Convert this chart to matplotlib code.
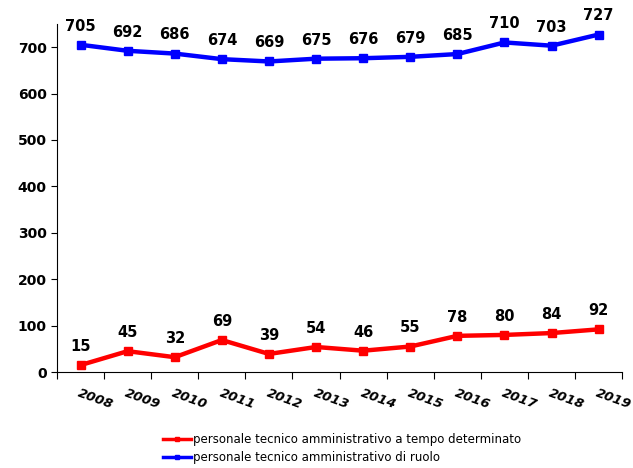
import matplotlib
matplotlib.use("Agg")
import matplotlib.pyplot as plt

years = ["2008", "2009", "2010", "2011", "2012", "2013", "2014", "2015", "2016", "2017", "2018", "2019"]
determinato = [15, 45, 32, 69, 39, 54, 46, 55, 78, 80, 84, 92]
ruolo = [705, 692, 686, 674, 669, 675, 676, 679, 685, 710, 703, 727]
label_det = "personale tecnico amministrativo a tempo determinato"
label_ruolo = "personale tecnico amministrativo di ruolo"

plt.rcParams['font.family'] = ['DejaVu Sans']
fig = plt.figure(figsize=(6.33, 4.68), dpi=100)
ax = fig.add_axes([0.090, 0.205, 0.893, 0.744])

x = list(range(len(years)))
l1, = ax.plot(x, determinato, color="#FF0000", lw=3.2, marker="s", ms=6, label=label_det)
l2, = ax.plot(x, ruolo, color="#0000FF", lw=3.2, marker="s", ms=6, label=label_ruolo)

for xi, v in zip(x, determinato):
    ax.annotate(str(v), (xi, v), xytext=(0, 8), textcoords="offset points",
                ha="center", va="bottom", fontsize=10.5, fontweight="bold")
for xi, v in zip(x, ruolo):
    ax.annotate(str(v), (xi, v), xytext=(0, 8), textcoords="offset points",
                ha="center", va="bottom", fontsize=10.5, fontweight="bold")

ax.set_xlim(-0.5, len(years) - 0.5)
ax.set_ylim(0, 750)
ax.set_yticks(range(0, 701, 100))
ax.tick_params(axis="y", labelsize=10, direction="out", length=4)
for t in ax.get_yticklabels():
    t.set_fontweight("bold")

ax.set_xticks([i - 0.5 for i in range(len(years) + 1)])
ax.set_xticklabels([])
ax.tick_params(axis="x", direction="out", length=5)
for xi, yr in zip(x, years):
    ax.text(xi, -0.042, yr, transform=ax.get_xaxis_transform(), rotation=-20,
            rotation_mode="anchor", ha="left", va="top", fontsize=9.5,
            fontweight="bold", fontstyle="italic")

ax.spines["top"].set_visible(False)
ax.spines["right"].set_visible(False)

leg = fig.legend(handles=[l1, l2], loc="upper left", bbox_to_anchor=(0.257, 0.075),
                 frameon=False, fontsize=8.5, handlelength=2.4, handletextpad=0.2,
                 labelspacing=0.45, borderaxespad=0, borderpad=0, markerscale=0.5)
for h in leg.legend_handles:
    h.set_linewidth(2.5)

fig.savefig("out.png", dpi=100)
